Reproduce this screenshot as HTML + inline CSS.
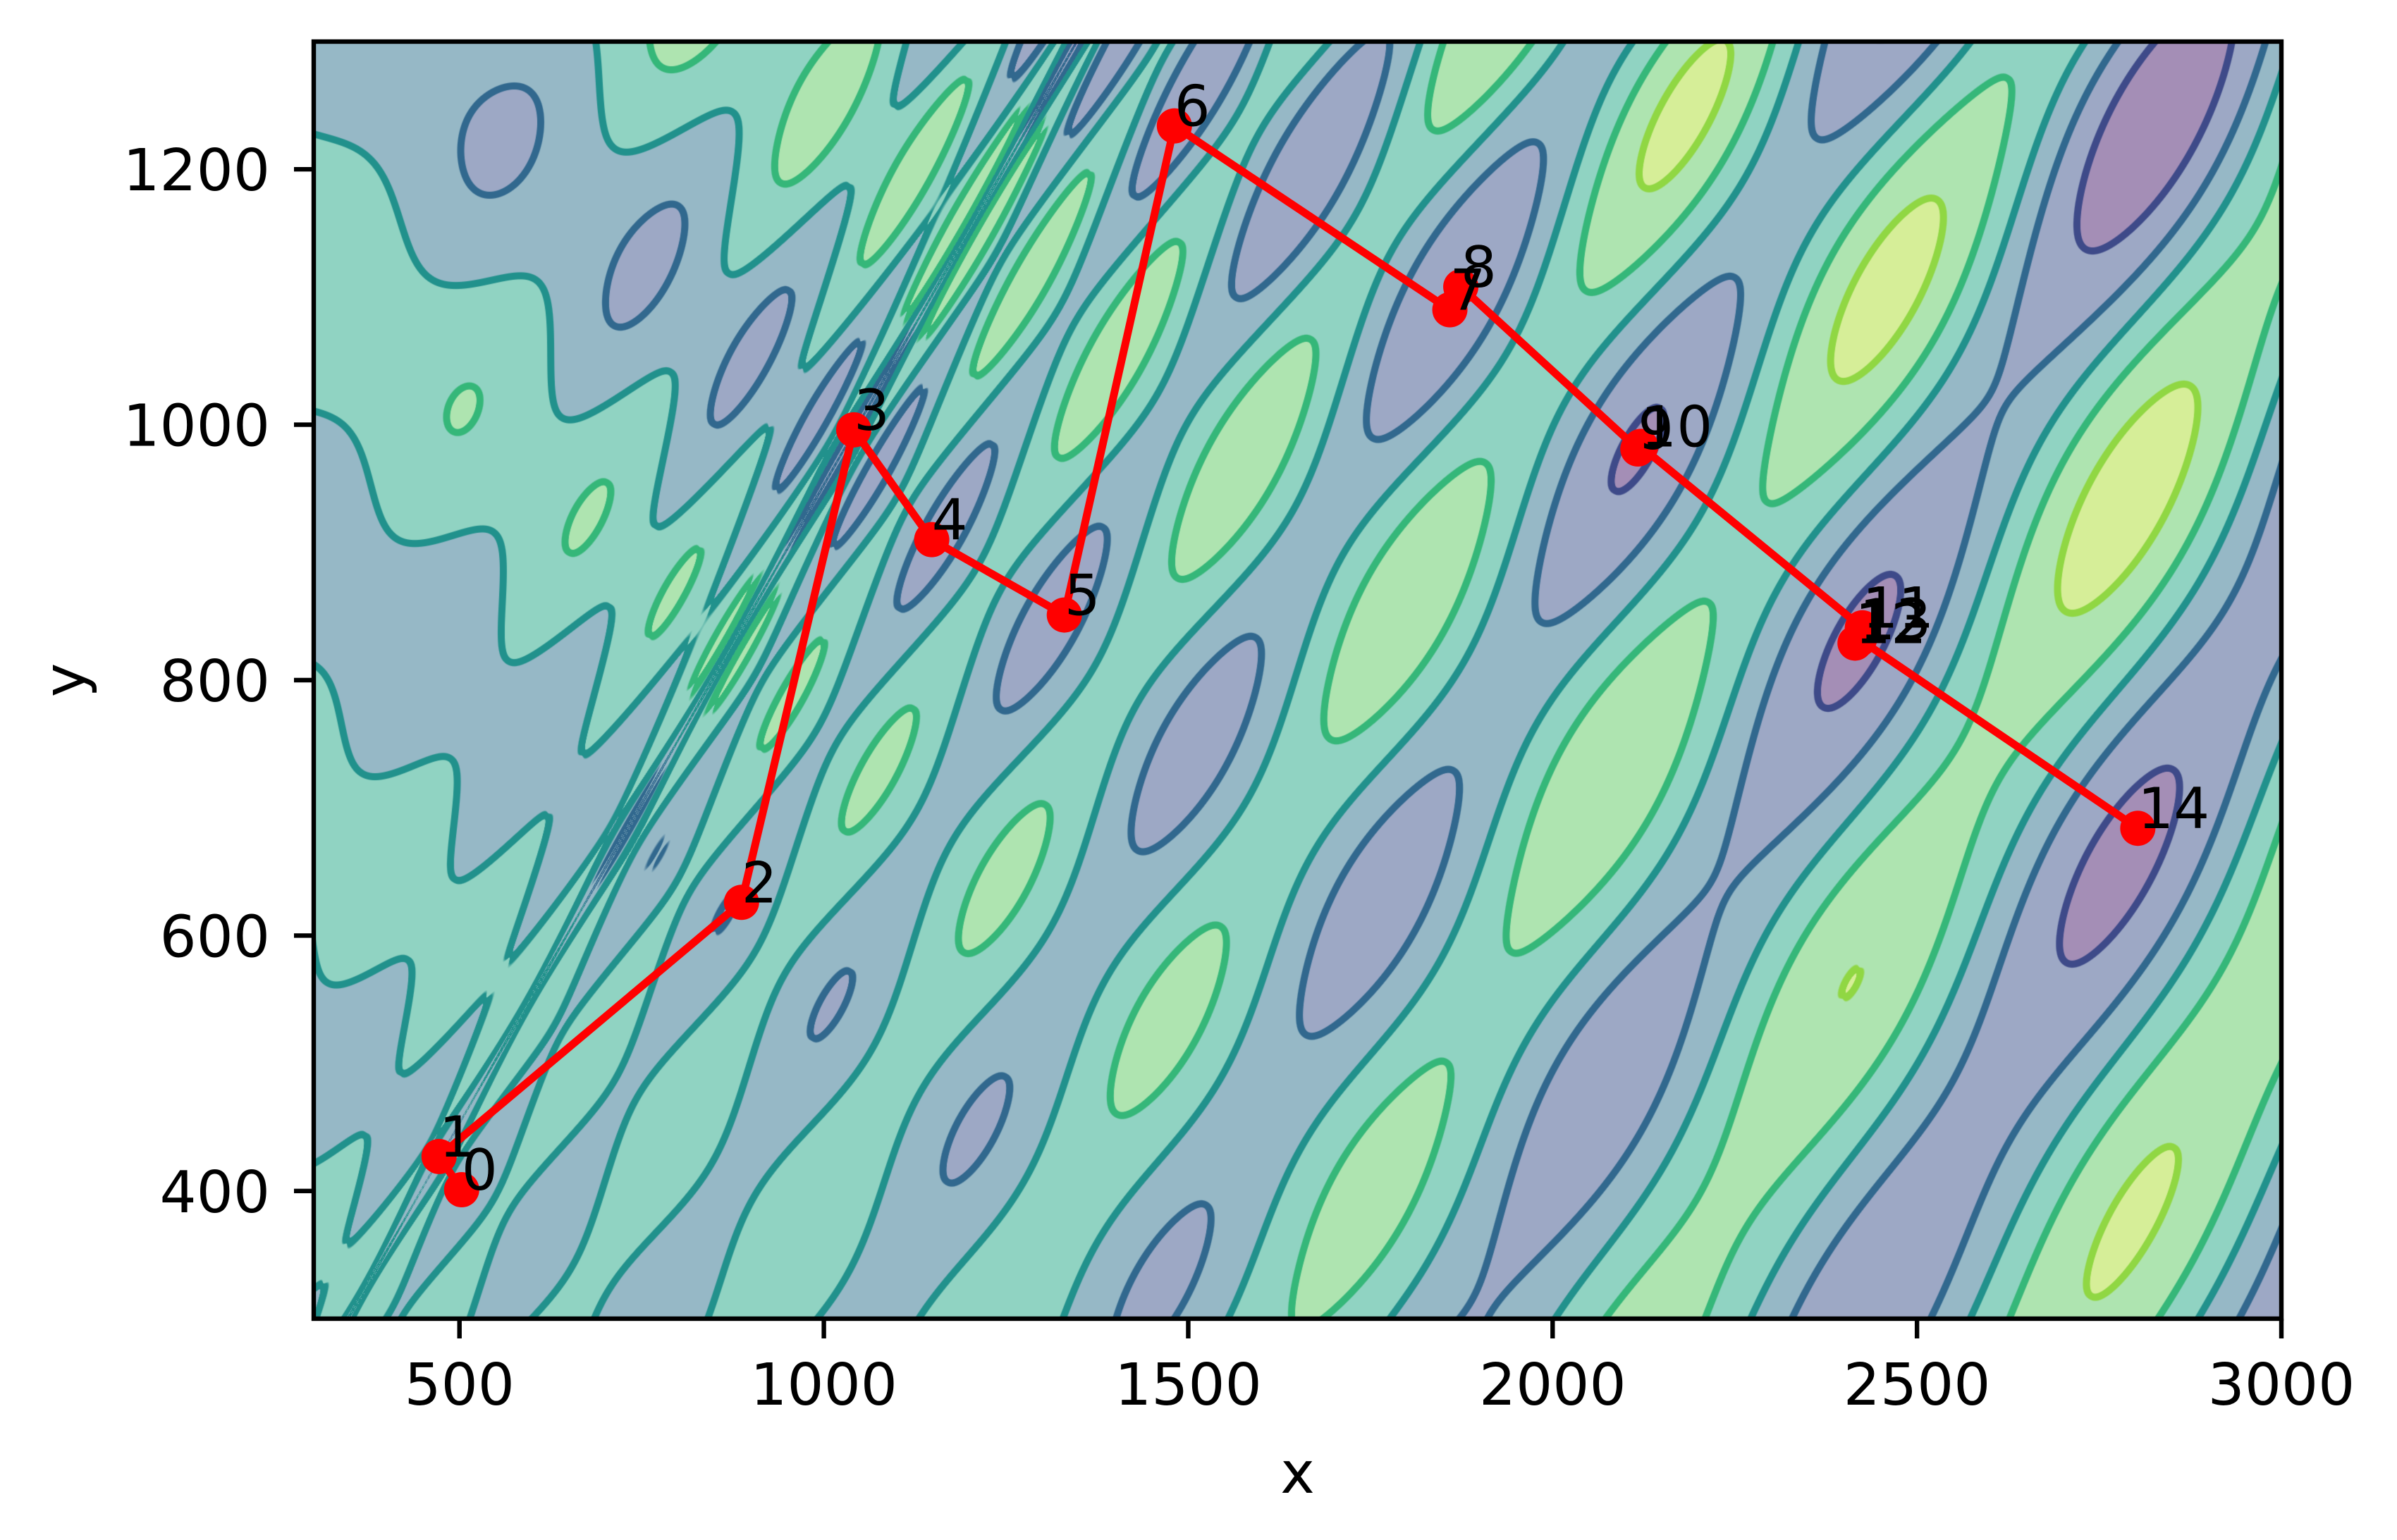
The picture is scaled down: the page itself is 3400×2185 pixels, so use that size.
<!DOCTYPE html>
<html><head><meta charset="utf-8"><style>
html,body{margin:0;padding:0;background:#fff;}
#wrap{position:relative;width:3400px;height:2185px;overflow:hidden;}
canvas{position:absolute;left:445px;top:59px;}
svg{position:absolute;left:0;top:0;}
text{font-family:"DejaVu Sans","Liberation Sans",sans-serif;}
</style></head><body>
<div id="wrap">
<canvas id="cv" width="2791" height="1812"></canvas>
<svg id="sv" width="3400" height="2185"></svg>
</div>
<script>
const xTicks=[500,1000,1500,2000,2500,3000];
const yTicks=[400,600,800,1000,1200];
const ptX=[503,472,887,1041,1148,1330,1481,1859,1874,2117,2121,2425,2415,2421,2803];
const ptY=[401,427,626,996,910,851,1234,1090,1108,981,983,841,829,832,684];
const levels=[-4500,-3000,-1500,0,1500,3000,4500];

const L=445,T=59,W=2791,H=1812,X0=300,X1=3000,Y0=300,Y1=1300;
function sx(v){return L+(v-X0)/(X1-X0)*W;}
function sy(v){return T+H-(v-Y0)/(Y1-Y0)*H;}
function f(x,y){return -(y+47)*Math.sin(Math.sqrt(Math.abs(x/2+y+47)))-x*Math.sin(Math.sqrt(Math.abs(x-(y+47))));}

const fillCols=[[72,28,110],[59,82,139],[44,113,142],[34,167,133],[94,201,98],[173,220,48]];
const lineCols=[[68,1,84],[62,74,137],[49,104,142],[33,145,140],[53,183,121],[144,215,67],[253,231,37]];
const cv=document.getElementById('cv');const ctx=cv.getContext('2d');
const F=new Float32Array(W*H);
for(let j=0;j<H;j++){const y=Y1-(j+0.5)/H*(Y1-Y0);for(let i=0;i<W;i++){const x=X0+(i+0.5)/W*(X1-X0);F[j*W+i]=f(x,y);}}
const img=ctx.createImageData(W,H);const d=img.data;
for(let j=0;j<H;j++){for(let i=0;i<W;i++){
 const k=j*W+i;const v=F[k];
 let b=0;while(b<levels.length-2&&v>levels[b+1])b++;
 const c=fillCols[b];
 let r=(c[0]+255)/2,g=(c[1]+255)/2,bl=(c[2]+255)/2;
 const i1=i<W-1?k+1:k,i0=i>0?k-1:k,j1=j<H-1?k+W:k,j0=j>0?k-W:k;
 const gx=(F[i1]-F[i0])/((i1-i0)||1),gy=(F[j1]-F[j0])/(((j1-j0)/W)||1);
 const gm=Math.sqrt(gx*gx+gy*gy)+1e-6;
 let best=1e9,bi=0;for(let l=0;l<levels.length;l++){const dd=Math.abs(v-levels[l])/gm;if(dd<best){best=dd;bi=l;}}
 const a=Math.max(0,Math.min(1,5.5-best));
 if(a>0){const lc=lineCols[bi];r=r*(1-a)+lc[0]*a;g=g*(1-a)+lc[1]*a;bl=bl*(1-a)+lc[2]*a;}
 d[k*4]=r;d[k*4+1]=g;d[k*4+2]=bl;d[k*4+3]=255;
}}
ctx.putImageData(img,0,0);

const NS='http://www.w3.org/2000/svg';const sv=document.getElementById('sv');
function el(t,at,p){const e=document.createElementNS(NS,t);for(const k in at)e.setAttribute(k,at[k]);(p||sv).appendChild(e);return e;}
let dstr='';ptX.forEach((x,i)=>{dstr+=(i?'L':'M')+sx(x)+' '+sy(ptY[i]);});
const pl=el('path',{d:dstr,fill:'none',stroke:'#ff0000','stroke-width':11,'stroke-linejoin':'round'});


ptX.forEach((x,i)=>{
 const c=el('circle',{cx:sx(x),cy:sy(ptY[i]),r:25,fill:'#ff0000'});
 
 
});
ptX.forEach((x,i)=>{
 const t=el('text',{x:sx(x),y:sy(ptY[i]),'font-size':80,fill:'#000'});t.textContent=String(i);
 
 
});
const fr=el('rect',{x:L,y:T,width:W,height:H,fill:'none',stroke:'#000','stroke-width':6.4});


xTicks.forEach(v=>{
 const tk=el('line',{x1:sx(v),x2:sx(v),y1:T+H,y2:T+H+28,stroke:'#000','stroke-width':6.4});
 
 
 const t=el('text',{x:sx(v),y:T+H+122,'font-size':82,'text-anchor':'middle'});t.textContent=String(v);
 
 
});
yTicks.forEach(v=>{
 const tk=el('line',{x1:L-28,x2:L,y1:sy(v),y2:sy(v),stroke:'#000','stroke-width':6.4});
 
 
 const t=el('text',{x:L-62,y:sy(v)+30,'font-size':82,'text-anchor':'end'});t.textContent=String(v);
 
 
});
const xl=el('text',{x:L+W/2,y:2118,'font-size':82,'text-anchor':'middle'});xl.textContent='x';


const yl=el('text',{x:0,y:0,'font-size':82,'text-anchor':'middle',transform:'translate(120,'+(T+H/2)+') rotate(-90)'});yl.textContent='y';


</script>
</body></html>
